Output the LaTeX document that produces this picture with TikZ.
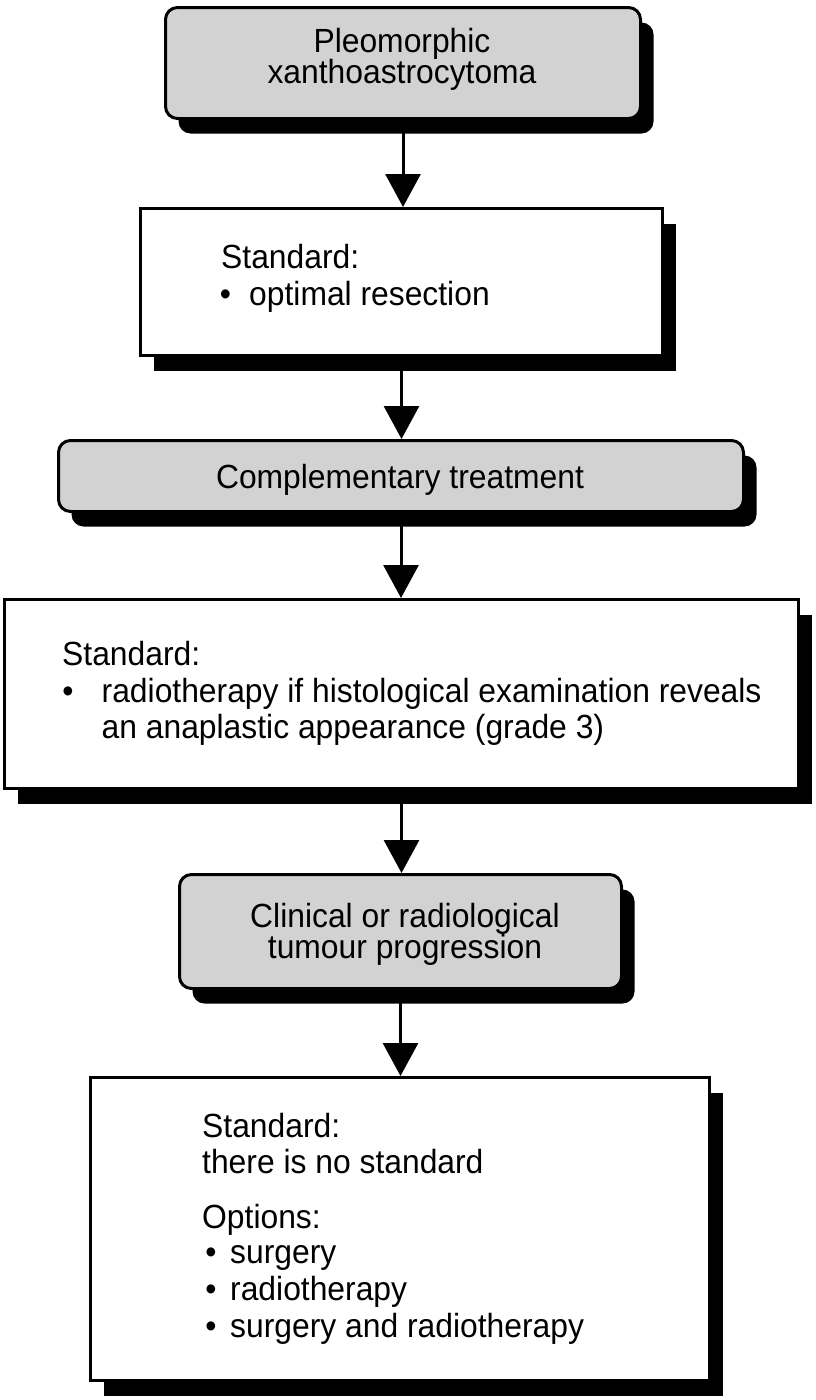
\documentclass[tikz,border=0pt]{standalone}
\usepackage{fontspec}
\setmainfont[FakeStretch=0.95]{Liberation Sans}
\usetikzlibrary{shadows,arrows.meta}
\definecolor{boxgray}{RGB}{210,210,210}
\newcommand\bodyfont{\fontsize{33.5}{37}\selectfont}
\begin{document}
\begin{tikzpicture}[x=1pt,y=-1pt,
  box/.style={draw=black, line width=3pt, fill=white, inner sep=0pt, outer sep=1.5pt,
    drop shadow={shadow xshift=13pt, shadow yshift=-15pt, fill=black, opacity=1}},
  graybox/.style={box, fill=boxgray, rounded corners=12pt},
  lt/.style={font=\bodyfont, inner sep=0pt, anchor=base west},
  ct/.style={font=\bodyfont, inner sep=0pt, anchor=base},
  bul/.style={font=\bodyfont, inner sep=0pt, anchor=base},
  arr/.style={line width=3pt, -{Triangle[length=33pt,width=35pt]}}
]
\fill[white] (0,0) rectangle (816,1400);
\useasboundingbox (0,0) rectangle (816,1400);

% boxes
\node[graybox, minimum width=475pt, minimum height=111pt] (b1) at (403,63) {};
\node[box, minimum width=522pt, minimum height=147pt] (b2) at (401.5,282) {};
\node[graybox, minimum width=685pt, minimum height=71pt] (b3) at (401,476) {};
\node[box, minimum width=794pt, minimum height=189pt] (b4) at (401.5,694) {};
\node[graybox, minimum width=442pt, minimum height=114pt] (b5) at (400.5,931.5) {};
\node[box, minimum width=619pt, minimum height=303pt] (b6) at (400,1229) {};

% texts
\node[ct] (t1a) at (402,52) {Pleomorphic};
\node[ct] (t1b) at (402,83) {xanthoastrocytoma};

\node[lt] (t2a) at (221,268) {Standard:};
\node[bul] (t2b) at (225.5,305) {\textbullet};
\node[lt] (t2c) at (249,305) {optimal resection};

\node[ct] (t3) at (400,488) {Complementary treatment};

\node[lt] (t4a) at (62,665) {Standard:};
\node[bul] (t4b) at (68,702) {\textbullet};
\node[lt] (t4c) at (101.5,702) {radiotherapy if histological examination reveals};
\node[lt] (t4d) at (101.5,738) {an anaplastic appearance (grade 3)};

\node[ct] (t5a) at (405,927) {Clinical or radiological};
\node[ct] (t5b) at (405,958) {tumour progression};

\node[lt] (t6a) at (202,1137) {Standard:};
\node[lt] (t6b) at (202,1173) {there is no standard};
\node[lt] (t6c) at (202,1228) {Options:};
\node[bul] (t6d) at (211,1263) {\textbullet};
\node[lt] (t6e) at (230,1263) {surgery};
\node[bul] (t6f) at (211,1300) {\textbullet};
\node[lt] (t6g) at (230,1300) {radiotherapy};
\node[bul] (t6h) at (211,1337) {\textbullet};
\node[lt] (t6i) at (230,1337) {surgery and radiotherapy};

% arrows
\draw[arr] (b1.south) -- (b1.south |- b2.north);
\draw[arr] (b2.south) -- (b2.south |- b3.north);
\draw[arr] (b3.south) -- (b3.south |- b4.north);
\draw[arr] (b4.south) -- (b4.south |- b5.north);
\draw[arr] (b5.south) -- (b5.south |- b6.north);
\end{tikzpicture}
\end{document}
